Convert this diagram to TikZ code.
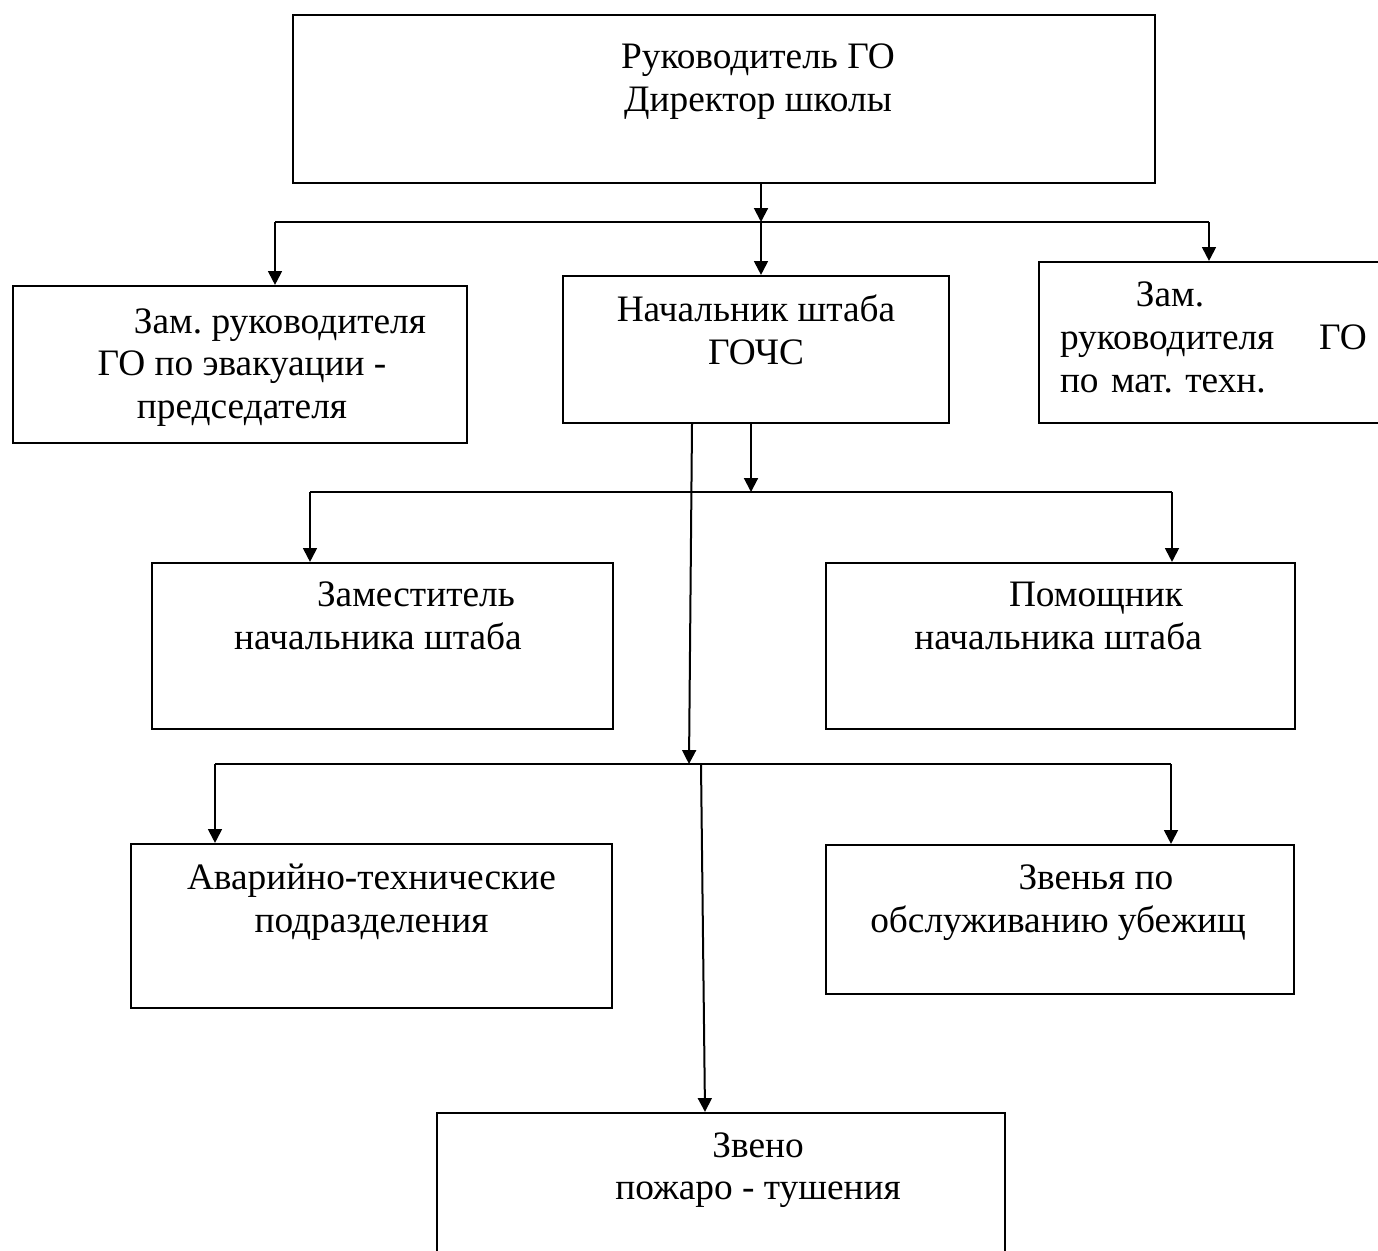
\documentclass[tikz,border=0pt]{standalone}
\usepackage{fontspec}
\setmainfont{Liberation Serif}
\usetikzlibrary{arrows.meta}

\newcommand{\ind}{\hspace*{1cm}}

\begin{document}
\begin{tikzpicture}[x=0.375pt, y=-0.375pt, line width=0.75pt,
   main node/.style={rectangle, draw, line width=0.8pt, inner sep=0pt},
   box text/.style={anchor=north, align=center, inner sep=0pt, font=\fontsize{14pt}{16.1pt}\selectfont\frenchspacing},
   arr/.style={-{Triangle[length=5.2pt, width=5.2pt]}}]
   \useasboundingbox (0,0) rectangle (1378,1250);

   \node[main node, minimum width=323.25pt, minimum height=63pt] (0) at (724,99)
      [label={[box text, xshift=12.75pt, yshift=-9pt]north:\strut Руководитель ГО\\Директор школы}] {};
   \node[main node, minimum width=170.25pt, minimum height=58.875pt] (1) at (240,364.5)
      [label={[box text, xshift=0.75pt, yshift=-6.4pt]north:\strut\ind Зам. руководителя\\ГО по эвакуации -\\председателя}] {};
   \node[main node, minimum width=144.75pt, minimum height=55.125pt] (2) at (756,349.5)
      [label={[box text, yshift=-6pt]north:\strut Начальник штаба\\ГОЧС}] {};
   \node[main node, minimum width=131.625pt, minimum height=60.375pt] (3) at (1214.5,342.5)
      [label={[box text, anchor=north west, align=left, text width=115pt, xshift=7.9pt, yshift=-5.6pt]north west:\strut\ind Зам.\\руководителя\hfill ГО\\по мат. техн.}] {};

   \node[main node, minimum width=172.875pt, minimum height=62.25pt] (4) at (382.5,646)
      [label={[box text, xshift=-1.7pt, yshift=-5.25pt]north:\strut\ind Заместитель\\начальника штаба}] {};
   \node[main node, minimum width=175.875pt, minimum height=62.25pt] (5) at (1060.5,646)
      [label={[box text, xshift=-0.9pt, yshift=-5.25pt]north:\strut\ind Помощник\\начальника штаба}] {};

   \node[main node, minimum width=180.375pt, minimum height=61.5pt] (6) at (371.5,926)
      [label={[box text, yshift=-6pt]north:\strut Аварийно-технические\\подразделения}] {};
   \node[main node, minimum width=175.5pt, minimum height=55.875pt] (7) at (1060,919.5)
      [label={[box text, xshift=-0.75pt, yshift=-5.6pt]north:\strut\ind Звенья по\\обслуживанию убежищ}] {};

   \node[main node, minimum width=213pt, minimum height=58.875pt] (8) at (721,1191.5)
      [label={[box text, xshift=13.9pt, yshift=-5.25pt]north:\strut Звено\\пожаро - тушения}] {};

   \coordinate (a0) at (761,222);
   \coordinate (aL) at (275,222);
   \coordinate (aR) at (1209,222);
   \coordinate (b0) at (751,492);
   \coordinate (bL) at (310,492);
   \coordinate (bR) at (1172,492);
   \coordinate (c0) at (689,764);
   \coordinate (cL) at (215,764);
   \coordinate (cR) at (1171,764);
   \coordinate (c1) at (701,764);

   \draw[arr] (0.south -| a0) -- (a0);
   \draw (aL) -- (aR);
   \draw[arr] (aL) -- (aL |- 1.north);
   \draw[arr] (a0) -- (a0 |- 2.north);
   \draw[arr] (aR) -- (aR |- 3.north);

   \draw[arr] (2.south -| b0) -- (b0);
   \draw (bL) -- (bR);
   \draw[arr] (bL) -- (bL |- 4.north);
   \draw[arr] (bR) -- (bR |- 5.north);

   \draw[arr] ([xshift=-24pt]2.south) -- (c0);
   \draw (cL) -- (cR);
   \draw[arr] (cL) -- (cL |- 6.north);
   \draw[arr] (cR) -- (cR |- 7.north);
   \draw[arr] (c1) -- ([xshift=-6pt]8.north);
\end{tikzpicture}
\end{document}
